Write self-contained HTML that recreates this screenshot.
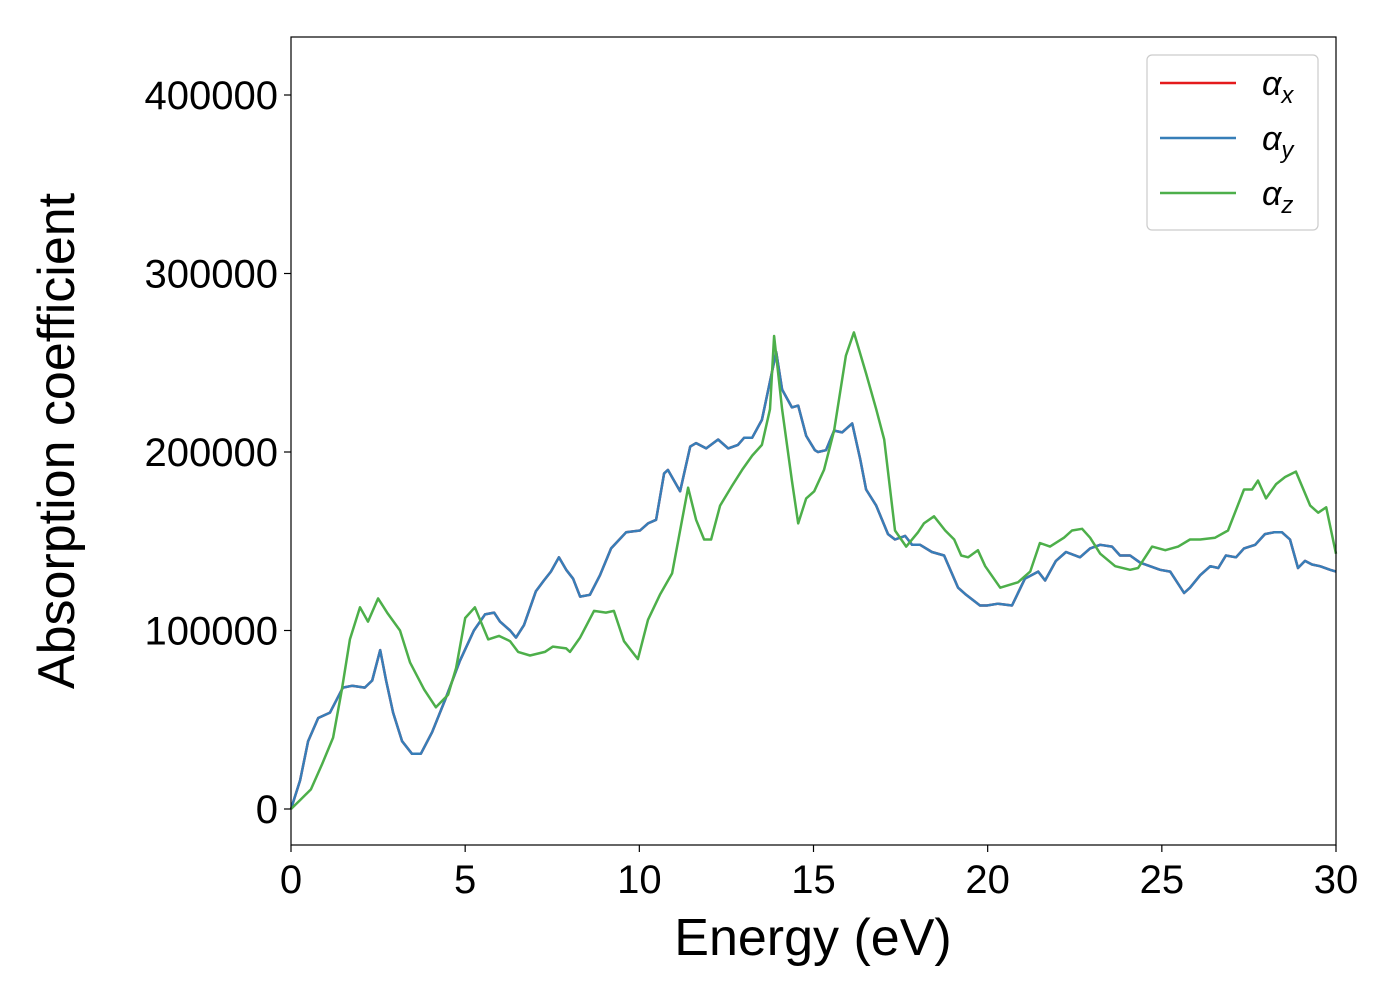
<!DOCTYPE html>
<html><head><meta charset="utf-8"><style>
html,body{margin:0;padding:0;background:#fff;}
svg text{font-family:"Liberation Sans","DejaVu Sans",sans-serif;fill:#000;}
</style></head><body>
<svg id="chart" width="1400" height="1000" xmlns="http://www.w3.org/2000/svg">
<rect x="0" y="0" width="1400" height="1000" fill="#fff"/>
<g id="plot"></g>
<rect x="291" y="37" width="1045" height="808" fill="none" stroke="#000" stroke-width="1.2"/>
<g id="axes"></g>
<text x="57" y="441" font-size="52" text-anchor="middle" transform="rotate(-90 57 441)" dominant-baseline="central">Absorption coefficient</text>
<text x="813" y="955" font-size="52" text-anchor="middle">Energy (eV)</text>
<g>
<rect x="1147" y="55" width="171" height="175" rx="5" fill="#fff" stroke="#ccc" stroke-width="1.2"/>
<line x1="1160" y1="83" x2="1236" y2="83" stroke="#e41a1c" stroke-width="2.5"/>
<text x="1262" y="95" font-size="34" font-style="italic">α<tspan font-size="24" dy="8">x</tspan></text>
<line x1="1160" y1="138" x2="1236" y2="138" stroke="#377eb8" stroke-width="2.5"/>
<text x="1262" y="150" font-size="34" font-style="italic">α<tspan font-size="24" dy="8">y</tspan></text>
<line x1="1160" y1="193" x2="1236" y2="193" stroke="#4daf4a" stroke-width="2.5"/>
<text x="1262" y="205" font-size="34" font-style="italic">α<tspan font-size="24" dy="8">z</tspan></text>
</g>
</svg>
<script>
const xTicks=[0,5,10,15,20,25,30];
const yTicks=[0,100000,200000,300000,400000];
const energyXY=[0,0.26,0.49,0.78,1.12,1.49,1.75,2.12,2.33,2.56,2.73,2.93,3.19,3.47,3.73,4.05,4.42,4.85,5.25,5.57,5.83,6.0,6.29,6.46,6.69,7.03,7.26,7.46,7.69,7.9,8.1,8.3,8.58,8.87,9.19,9.62,10.02,10.25,10.48,10.71,10.82,11.17,11.46,11.63,11.92,12.26,12.55,12.83,13.01,13.24,13.52,13.93,14.1,14.38,14.56,14.79,15.04,15.13,15.36,15.59,15.82,16.11,16.34,16.51,16.8,17.14,17.34,17.63,17.83,18.06,18.4,18.75,19.15,19.38,19.78,19.98,20.3,20.7,21.07,21.45,21.65,21.96,22.25,22.65,22.94,23.23,23.57,23.8,24.09,24.38,24.66,24.95,25.24,25.64,25.81,26.1,26.39,26.62,26.84,27.13,27.36,27.68,27.96,28.22,28.45,28.68,28.91,29.11,29.31,29.54,29.83,30];
const alphaXY=[0,16,38,51,54,68,69,68,72,89,72,54,38,31,31,43,61,83,100,109,110,105,100,96,103,122,128,133,141,134,129,119,120,131,146,155,156,160,162,188,190,178,203,205,202,207,202,204,208,208,218,256,235,225,226,209,201,200,201,212,211,216,196,179,170,154,151,153,148,148,144,142,124,120,114,114,115,114,129,133,128,139,144,141,146,148,147,142,142,138,136,134,133,121,124,131,136,135,142,141,146,148,154,155,155,151,135,139,137,136,134,133].map(v=>v*1000);
const energyZ=[0,0.26,0.57,0.89,1.21,1.46,1.69,1.98,2.21,2.5,2.76,3.13,3.42,3.82,4.16,4.51,4.74,5.0,5.28,5.66,5.97,6.29,6.52,6.86,7.29,7.52,7.9,8.01,8.3,8.7,9.04,9.27,9.56,9.96,10.25,10.59,10.94,11.17,11.4,11.63,11.86,12.06,12.32,12.66,12.95,13.24,13.52,13.75,13.87,14.1,14.38,14.56,14.79,15.02,15.3,15.59,15.93,16.16,16.51,16.8,17.03,17.34,17.66,18.0,18.17,18.46,18.78,19.04,19.24,19.44,19.72,19.93,20.36,20.87,21.22,21.5,21.79,22.19,22.42,22.71,22.94,23.23,23.66,24.09,24.32,24.52,24.72,25.1,25.47,25.81,26.1,26.53,26.9,27.36,27.59,27.76,27.99,28.28,28.54,28.85,29.26,29.49,29.72,30];
const alphaZ=[0,5,11,25,40,67,95,113,105,118,110,100,82,67,57,64,79,107,113,95,97,94,88,86,88,91,90,88,96,111,110,111,94,84,106,120,132,156,180,162,151,151,170,181,190,198,204,224,265,224,184,160,174,178,190,212,254,267,244,224,207,156,147,155,160,164,156,151,142,141,145,136,124,127,133,149,147,152,156,157,152,143,136,134,135,141,147,145,147,151,151,152,156,179,179,184,174,182,186,189,170,166,169,143].map(v=>v*1000);

const NS='http://www.w3.org/2000/svg';
const X0=291,X1=1336,Y0=809,YPER=714/400000;
function xs(e){return X0+(X1-X0)*e/30;}
function ys(v){return Y0-v*YPER;}
const plot=document.getElementById('plot');
const axes=document.getElementById('axes');
function drawLine(E,V,color,name){
  const p=document.createElementNS(NS,'polyline');
  p.setAttribute('points',E.map((e,i)=>xs(e).toFixed(1)+','+ys(V[i]).toFixed(1)).join(' '));
  p.setAttribute('fill','none');p.setAttribute('stroke',color);
  p.setAttribute('stroke-width','2.5');p.setAttribute('stroke-linejoin','round');
  
  
  plot.appendChild(p);
}
drawLine(energyXY,alphaXY,'#e41a1c','series-alpha-x');
drawLine(energyXY,alphaXY,'#377eb8','series-alpha-y');
drawLine(energyZ,alphaZ,'#4daf4a','series-alpha-z');
xTicks.forEach(t=>{
  const l=document.createElementNS(NS,'line');
  l.setAttribute('x1',xs(t));l.setAttribute('x2',xs(t));l.setAttribute('y1',845);l.setAttribute('y2',852);
  l.setAttribute('stroke','#000');l.setAttribute('stroke-width','1.2');
  
  
  axes.appendChild(l);
  const tx=document.createElementNS(NS,'text');
  tx.setAttribute('x',xs(t));tx.setAttribute('y',893);tx.setAttribute('font-size','40');tx.setAttribute('text-anchor','middle');
  tx.textContent=t;
  
  
  axes.appendChild(tx);
});
yTicks.forEach(t=>{
  const l=document.createElementNS(NS,'line');
  l.setAttribute('x1',284);l.setAttribute('x2',291);l.setAttribute('y1',ys(t));l.setAttribute('y2',ys(t));
  l.setAttribute('stroke','#000');l.setAttribute('stroke-width','1.2');
  
  
  axes.appendChild(l);
  const tx=document.createElementNS(NS,'text');
  tx.setAttribute('x',278);tx.setAttribute('y',ys(t)+14);tx.setAttribute('font-size','40');tx.setAttribute('text-anchor','end');
  tx.textContent=t;
  
  
  axes.appendChild(tx);
});
</script>
</body></html>
